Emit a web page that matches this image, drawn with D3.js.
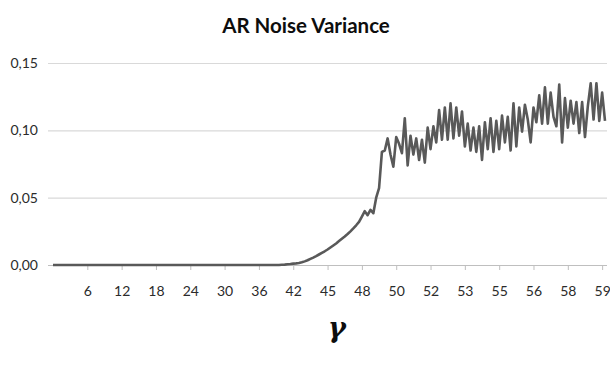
<!DOCTYPE html>
<html>
<head>
<meta charset="utf-8">
<script src="https://cdn.jsdelivr.net/npm/d3@7"></script>
<style>
  html, body { margin: 0; padding: 0; background: #fff; }
  svg { display: block; }
</style>
</head>
<body>
<svg id="chart" width="610" height="366"></svg>
<script>
// ---- data ----
const title = "AR Noise Variance";
const xAxisTitle = "γ";
const tickLabels = ["6","12","18","24","30","36","42","45","48","50","52","53","55","56","58","59"];
const tickEvery = 12; // one label every 12 categories
const yTicks = [0, 0.05, 0.10, 0.15];
// AR noise variance, one value per gamma category (194 categories)
const variance = [
  // 0-79: flat at zero
  0,0,0,0,0,0,0,0,0,0, 0,0,0,0,0,0,0,0,0,0,
  0,0,0,0,0,0,0,0,0,0, 0,0,0,0,0,0,0,0,0,0,
  0,0,0,0,0,0,0,0,0,0, 0,0,0,0,0,0,0,0,0,0,
  0,0,0,0,0,0,0,0,0,0, 0,0,0,0,0,0,0,0,0,0,
  // 80-115: rising
  0.0002,0.0003,0.0005,0.0007,0.0010,0.0012,0.0015,0.0020,0.0027,0.0035,
  0.0045,0.0055,0.0066,0.0078,0.0090,0.0102,0.0115,0.0130,0.0145,0.0160,
  0.0178,0.0195,0.0212,0.0230,0.0250,0.0272,0.0295,0.0320,0.0360,0.0400,
  0.0370,0.0410,0.0385,0.0500,0.0570,0.0840,
  // 116-160: noisy plateau
  0.085,0.094,0.082,0.073,0.095,0.090,0.083,0.109,0.074,0.096,
  0.082,0.094,0.078,0.093,0.076,0.102,0.086,0.103,0.091,0.115,
  0.093,0.117,0.093,0.120,0.094,0.117,0.096,0.114,0.088,0.105,
  0.085,0.102,0.084,0.103,0.078,0.106,0.086,0.109,0.084,0.107,
  0.086,0.111,0.091,0.110,0.085,
  // 161-193
  0.120,0.088,0.117,0.099,0.119,0.108,0.091,0.117,0.106,0.126,
  0.105,0.132,0.105,0.128,0.110,0.103,0.134,0.091,0.124,0.102,
  0.122,0.105,0.121,0.098,0.121,0.095,0.118,0.135,0.108,0.135,
  0.107,0.128,0.107
];

(function draw() {
  const svg = d3.select("#chart");
  const mLeft = 53, mRight = 605, mTop = 63, mBottom = 265;
  const x = d3.scaleLinear().domain([0, variance.length - 1]).range([mLeft, mRight]);
  const y = d3.scaleLinear().domain([0, 0.15]).range([mBottom, mTop]);
  const font = "Lato, 'Open Sans', sans-serif";

  // title
  svg.append("text")
    .attr("x", 306).attr("y", 33)
    .attr("text-anchor", "middle")
    .attr("font-family", font)
    .attr("font-weight", "bold")
    .attr("font-size", 20.5)
    .attr("fill", "#0d0d0d")
    .text(title);

  // gridlines + y labels
  const yAxis = d3.axisLeft(y)
    .tickValues(yTicks)
    .tickSize(-(mRight + 2 - 48))
    .tickPadding(10)
    .tickFormat(d => d3.format(".2f")(d).replace(".", ","));
  const gy = svg.append("g").attr("transform", "translate(48,0)").call(yAxis);
  gy.select(".domain").remove();
  gy.selectAll(".tick line").attr("stroke", "#d9d9d9").attr("stroke-width", 1.2);
  gy.selectAll(".tick text")
    .attr("font-family", font).attr("font-size", 14).attr("fill", "#2b2b2b").attr("x", -10);

  // x axis
  const xAxis = d3.axisBottom(x)
    .tickValues(tickLabels.map((_, i) => (i + 1) * tickEvery))
    .tickSize(5)
    .tickPadding(16)
    .tickFormat((d, i) => tickLabels[i]);
  const gx = svg.append("g").attr("transform", `translate(0,${mBottom})`).call(xAxis);
  gx.select(".domain").attr("stroke", "#bfbfbf").attr("stroke-width", 1.2)
    .attr("d", `M48,0.5H${mRight + 2}`);
  gx.selectAll(".tick line").attr("stroke", "#bfbfbf");
  gx.selectAll(".tick text")
    .attr("font-family", font).attr("font-size", 14).attr("fill", "#2b2b2b");

  // line
  const line = d3.line().x((d, i) => x(i)).y(d => y(d));
  svg.append("path")
    .datum(variance)
    .attr("d", line)
    .attr("fill", "none")
    .attr("stroke", "#595959")
    .attr("stroke-width", 2.6)
    .attr("stroke-linejoin", "round");

  // x-axis title
  svg.append("text")
    .attr("x", 337).attr("y", 337)
    .attr("text-anchor", "middle")
    .attr("font-family", "'DejaVu Serif', 'Liberation Serif', serif")
    .attr("font-style", "italic")
    .attr("font-weight", "bold")
    .attr("font-size", 27)
    .attr("fill", "#0d0d0d")
    .text(xAxisTitle);
})();
</script>
</body>
</html>
